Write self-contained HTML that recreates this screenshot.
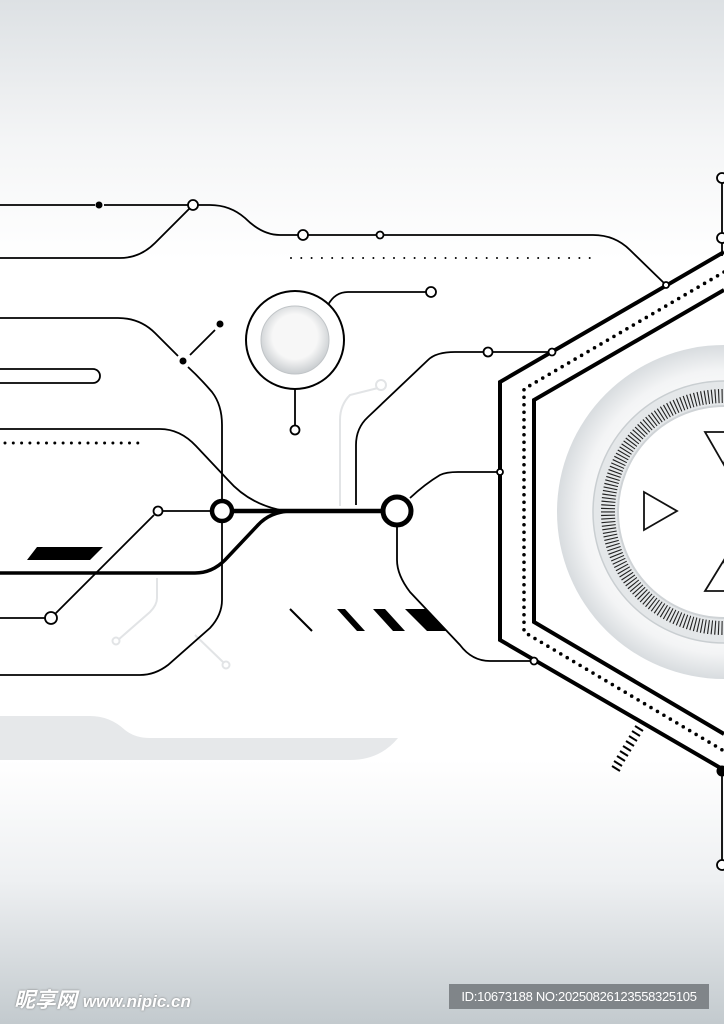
<!DOCTYPE html>
<html><head><meta charset="utf-8"><style>
html,body{margin:0;padding:0;width:724px;height:1024px;overflow:hidden}
body{background:linear-gradient(#dde1e4 0px,#f4f5f6 140px,#ffffff 260px,#ffffff 760px,#eef0f2 880px,#c3cace 1024px);position:relative;font-family:"Liberation Sans",sans-serif}
svg{position:absolute;left:0;top:0}
.wm{position:absolute;left:14px;top:984px;color:#fff;font:italic bold 21px "Liberation Sans","Noto Sans CJK SC",sans-serif;text-shadow:0 0 2px #777}
.wm span{font-size:17px}
.id{position:absolute;left:449px;top:984px;width:260px;height:25px;background:#808589;color:#fff;font-size:13px;line-height:25px;text-align:center;letter-spacing:-0.3px}
</style></head><body>
<svg width="724" height="1024" viewBox="0 0 724 1024">
<defs>
<radialGradient id="disc" cx="724" cy="512" r="167" gradientUnits="userSpaceOnUse">
<stop offset="0.6" stop-color="#fff"/><stop offset="0.85" stop-color="#f3f4f5"/><stop offset="1" stop-color="#d8dcdf"/></radialGradient>
<radialGradient id="small" cx="0.5" cy="0.45" r="0.55"><stop offset="0.6" stop-color="#f7f7f7"/><stop offset="1" stop-color="#c8cccf"/></radialGradient>
</defs>
<path d="M0 716 L90 716 Q110 716 125 730 Q135 738 150 738 L398 738 Q380 760 350 760 L0 760 Z" fill="#e6e8ea"/>
<circle cx="724" cy="512" r="167" fill="url(#disc)"/>
<circle cx="724" cy="512" r="131" fill="#e4e7e9" stroke="#c9ced1" stroke-width="1.5"/>
<circle cx="724" cy="512" r="116" fill="none" stroke="#222" stroke-width="14" stroke-dasharray="1.1 2.3"/>
<circle cx="724" cy="512" r="106" fill="#fff" stroke="#cfd3d6" stroke-width="2"/>
<g fill="none" stroke="#111" stroke-width="1.8">
<polygon points="644,492 644,530 677,511"/>
<polygon points="705,432 730,432 724,465"/>
<polygon points="705,591 730,591 724,560"/>
</g>
<g fill="none" stroke="#000" stroke-linejoin="miter">
<polyline points="724,252 500,382 500,640 724,770" stroke-width="4"/>
<polyline points="724,290 534,400 534,622 724,734" stroke-width="4"/>
<polyline points="724,272 524,389 524,632 724,751" stroke-width="3.6" stroke-dasharray="0 7.5" stroke-linecap="round"/>
</g>
<g stroke="#000" stroke-width="2">
<line x1="612" y1="766" x2="620" y2="771"/><line x1="614" y1="761" x2="622" y2="766"/><line x1="617" y1="756" x2="625" y2="761"/><line x1="620" y1="751" x2="628" y2="756"/><line x1="623" y1="746" x2="631" y2="751"/><line x1="626" y1="741" x2="634" y2="746"/><line x1="629" y1="736" x2="637" y2="741"/><line x1="632" y1="731" x2="640" y2="736"/><line x1="635" y1="726" x2="643" y2="731"/>
</g>
<g fill="none" stroke="#e2e4e6" stroke-width="2">
<path d="M340 506 L340 420 Q340 405 350 395 L378 388"/>
<circle cx="381" cy="385" r="5" fill="#fff"/>
<path d="M157 578 L157 598 Q157 605 150 612 L118 640"/>
<circle cx="116" cy="641" r="3.5" fill="#fff"/>
<path d="M195 635 L224 663"/><circle cx="226" cy="665" r="3.5" fill="#fff"/>
</g>
<g fill="none" stroke="#000" stroke-width="1.8">
<path d="M0 205 L95 205 M104 205 L193 205"/>
<path d="M198 205 L210 205 Q230 205 245 218 Q262 235 280 235 L593 235 Q615 235 630 250 L666 285"/>
<path d="M0 258 L120 258 Q140 258 155 243 L190 208"/>
<path d="M0 318 L118 318 Q140 318 155 333 L178 356"/>
<path d="M188 367 Q200 378 212 392 Q222 405 222 425 L222 600 Q222 615 210 628 L168 665 Q155 675 140 675 L0 675"/>
<path d="M190 355 L215 330"/>
<path d="M0 429 L160 429 Q180 429 196 446 L228 480 Q250 505 285 511"/>
<path d="M158 511 L212 511"/>
<path d="M154 515 L55 614"/>
<path d="M0 618 L45 618"/>
<path d="M328 305 Q335 292 348 292 L426 292"/>
<path d="M295 389 L295 425"/>
<path d="M356 505 L356 445 Q356 428 368 417 L428 360 Q436 352 455 352 L483 352 M493 352 L552 352"/>
<path d="M410 498 Q425 484 440 475 Q446 472 458 472 L500 472"/>
<path d="M397 525 L397 560 Q397 575 410 592 L460 645 Q472 661 490 661 L534 661"/>
<path d="M722 183 L722 233 M722 243 L722 256"/>
<path d="M722 771 L722 860"/>
<rect x="-10" y="369" width="110" height="14" rx="7"/>
</g>
<g fill="none" stroke="#000" stroke-linecap="round">
<line x1="291" y1="258" x2="590" y2="258" stroke-width="2" stroke-dasharray="0 10.3"/>
<line x1="5" y1="443" x2="146" y2="443" stroke-width="3" stroke-dasharray="0 8.3"/>
</g>
<circle cx="295" cy="340" r="49" fill="#fff" stroke="#000" stroke-width="2"/>
<circle cx="295" cy="340" r="34" fill="url(#small)" stroke="#c0c4c7" stroke-width="1"/>
<g fill="none" stroke="#000">
<path d="M222 511 L398 511" stroke-width="4.5"/>
<path d="M0 573 L195 573 Q212 573 225 560 L258 525 Q270 512 290 511" stroke-width="3.5"/>
</g>
<circle cx="222" cy="511" r="10" fill="#fff" stroke="#000" stroke-width="4.5"/>
<circle cx="397" cy="511" r="14" fill="#fff" stroke="#000" stroke-width="5"/>
<g fill="#fff" stroke="#000" stroke-width="1.8">
<circle cx="193" cy="205" r="5"/><circle cx="303" cy="235" r="5"/><circle cx="380" cy="235" r="3.5"/>
<circle cx="666" cy="285" r="3"/><circle cx="431" cy="292" r="5"/><circle cx="295" cy="430" r="4.5"/>
<circle cx="158" cy="511" r="4.5"/><circle cx="51" cy="618" r="6"/><circle cx="488" cy="352" r="4.5"/>
<circle cx="552" cy="352" r="3.5"/><circle cx="500" cy="472" r="3"/><circle cx="534" cy="661" r="3.5"/>
<circle cx="722" cy="178" r="5"/><circle cx="722" cy="238" r="5"/><circle cx="722" cy="865" r="5"/>
</g>
<g fill="#000">
<circle cx="99" cy="205" r="3.5"/><circle cx="183" cy="361" r="3.5"/><circle cx="220" cy="324" r="3.5"/>
<circle cx="722" cy="771" r="5.5"/>
<polygon points="37,547 103,547 90,560 27,560"/>
<polygon points="337,609 345,609 365,631 357,631"/>
<polygon points="373,609 385,609 405,631 393,631"/>
<polygon points="405,609 425,609 447,631 427,631"/>
</g>
<line x1="290" y1="609" x2="312" y2="631" stroke="#000" stroke-width="2"/>
</svg>
<div class="wm">昵享网 <span>www.nipic.cn</span></div>
<div class="id">ID:10673188 NO:20250826123558325105</div>
</body></html>
